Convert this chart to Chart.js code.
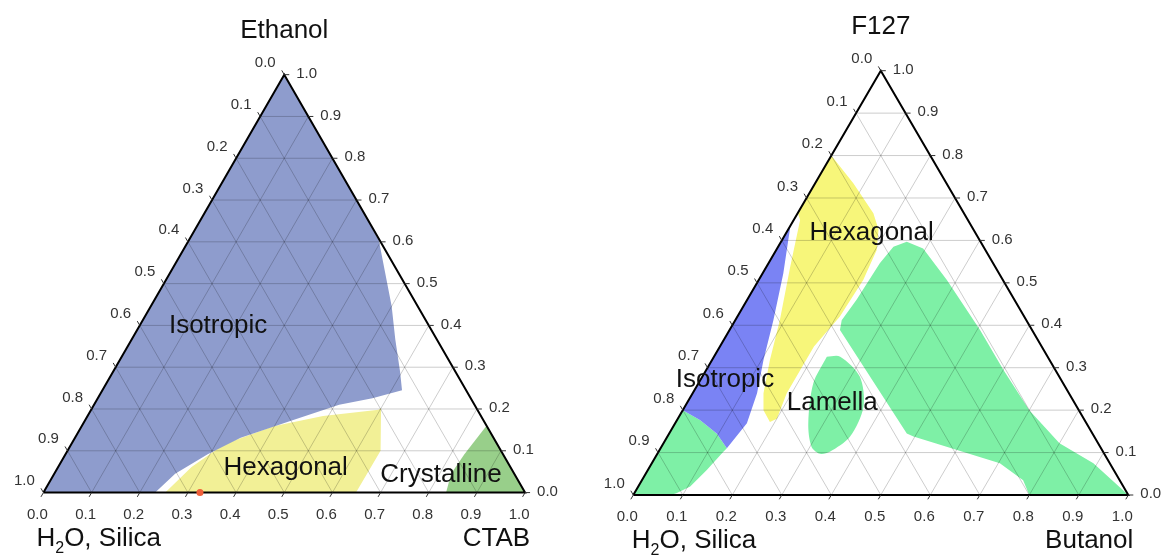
<!DOCTYPE html>
<html>
<head>
<meta charset="utf-8">
<script src="https://cdn.jsdelivr.net/npm/chart.js@4.4.1/dist/chart.umd.min.js"></script>
<style>
  html, body { margin: 0; padding: 0; background: #fff; }
  .wrap { position: relative; width: 1168px; height: 557px; }
  .panel { position: absolute; top: 0; width: 584px; height: 557px; }
</style>
</head>
<body>
<div class="wrap">
  <div class="panel" style="left:0"><canvas id="ctabChart" width="584" height="557"></canvas></div>
  <div class="panel" style="left:584px"><canvas id="butanolChart" width="584" height="557"></canvas></div>
</div>
<script>
// Ternary points are [bottom component, top component]; left-edge component = 1 - a - b
const ticks = [0, 0.1, 0.2, 0.3, 0.4, 0.5, 0.6, 0.7, 0.8, 0.9, 1.0];
const tickLabels = ['0.0', '0.1', '0.2', '0.3', '0.4', '0.5', '0.6', '0.7', '0.8', '0.9', '1.0'];

// H2O, Silica / Ethanol / CTAB
const ctabIsotropic = [
  [0, 1], [0.3, 0.7], [0.395, 0.603], [0.5, 0.446], [0.547, 0.367], [0.596, 0.289], [0.622, 0.245],
  [0.57, 0.226], [0.509, 0.21], [0.427, 0.171], [0.344, 0.131], [0.295, 0.092], [0.251, 0.045],
  [0.232, 0], [0, 0]
];
const ctabHexagonal = [
  [0.253, 0], [0.277, 0.061], [0.318, 0.116], [0.398, 0.159], [0.489, 0.183], [0.597, 0.198],
  [0.6, 0.202], [0.65, 0.1], [0.649, 0]
];
const ctabCrystalline = [[0.84, 0.16], [0.828, 0.092], [0.824, 0.045], [0.836, 0], [1, 0]];
const ctabSample = [[0.325, 0]];

// H2O, Silica / F127 / Butanol
const butIsotropic = [
  [0, 0.635], [0.042, 0.522], [0.077, 0.412], [0.104, 0.318], [0.13, 0.24], [0.145, 0.169],
  [0.134, 0.11], [0.096, 0.145], [0.046, 0.177], [0, 0.2]
];
const butWaterRich = [
  [0, 0.2], [0.046, 0.177], [0.096, 0.145], [0.134, 0.11], [0.131, 0.102], [0.119, 0.059],
  [0.105, 0.02], [0.085, 0.004], [0.075, 0], [0, 0]
];
const butHexagonal = [
  [0, 0.8], [0.077, 0.735], [0.153, 0.664], [0.183, 0.625], [0.203, 0.577], [0.211, 0.507],
  [0.207, 0.42], [0.19, 0.35], [0.19, 0.24], [0.2, 0.18], [0.19, 0.172], [0.163, 0.2],
  [0.143, 0.24], [0.117, 0.318], [0.09, 0.412], [0.048, 0.538], [0.013, 0.648], [0, 0.665]
];
const butLamella = [
  [0.228, 0.326], [0.255, 0.326], [0.318, 0.279], [0.361, 0.208], [0.369, 0.138], [0.346, 0.102],
  [0.329, 0.097], [0.303, 0.114], [0.269, 0.169], [0.232, 0.263]
];
const butLamellaWide = [
  [0.233, 0.585], [0.254, 0.597], [0.295, 0.581], [0.38, 0.507], [0.506, 0.389], [0.6, 0.295],
  [0.7, 0.2], [0.8, 0.122], [0.892, 0.075], [1, 0], [0.8, 0], [0.77, 0.035], [0.703, 0.075],
  [0.497, 0.138], [0.48, 0.145], [0.223, 0.389], [0.215, 0.412], [0.221, 0.46], [0.225, 0.546]
];

const BIG = '26px "Liberation Sans", Arial, sans-serif';
const SUB = '16px "Liberation Sans", Arial, sans-serif';
const SMALL = '15px "Liberation Sans", Arial, sans-serif';

function toXY(p) {
  return { x: p[0] + p[1] / 2, y: p[1] };
}

function regionSet(points, color, tension = 0) {
  const data = points.map(toXY);
  data.push(data[0]);
  return {
    data, showLine: true, fill: 'shape', backgroundColor: color, borderColor: color,
    borderWidth: 0, pointRadius: 0, tension, order: 3
  };
}

function gridSets() {
  const sets = [];
  ticks.slice(1, -1).forEach(v => {
    const segs = [[[v, 0], [v, 1 - v]], [[0, v], [1 - v, v]], [[0, 1 - v], [1 - v, 0]]];
    segs.forEach(seg => {
      sets.push({
        data: seg.map(toXY), showLine: true, borderColor: 'rgba(0,0,0,0.2)',
        borderWidth: 1, pointRadius: 0, fill: false, order: 2
      });
    });
  });
  return sets;
}

function frameSet() {
  return {
    data: [[0, 0], [1, 0], [0, 1], [0, 0]].map(toXY), showLine: true, borderColor: '#000',
    borderWidth: 2, borderJoinStyle: 'miter', pointRadius: 0, fill: false, order: 1
  };
}

function drawWaterSilica(ctx, x, y) {
  ctx.textAlign = 'left';
  ctx.font = BIG;
  ctx.fillText('H', x, y);
  let w = ctx.measureText('H').width;
  ctx.font = SUB;
  ctx.fillText('2', x + w, y + 7);
  w += ctx.measureText('2').width;
  ctx.font = BIG;
  ctx.fillText('O, Silica', x + w, y);
}

// ticks, tick labels, titles and phase names
function axesPlugin(cfg) {
  return {
    id: 'ternaryAxes',
    afterDraw(chart) {
      const ctx = chart.ctx;
      const px = (a, b) => {
        const p = toXY([a, b]);
        return { x: chart.scales.x.getPixelForValue(p.x), y: chart.scales.y.getPixelForValue(p.y) };
      };
      ctx.save();
      ctx.strokeStyle = '#333';
      ctx.lineWidth = 1;
      ctx.fillStyle = '#333';
      ctx.font = SMALL;
      ticks.forEach((v, i) => {
        // bottom axis
        let p = px(v, 0);
        ctx.beginPath(); ctx.moveTo(p.x, p.y); ctx.lineTo(p.x - 2.5, p.y + 4.3); ctx.stroke();
        ctx.textAlign = 'center'; ctx.textBaseline = 'middle';
        ctx.fillText(tickLabels[i], p.x - 6, p.y + 22);
        // left axis
        p = px(0, 1 - v);
        ctx.beginPath(); ctx.moveTo(p.x, p.y); ctx.lineTo(p.x - 2.5, p.y - 4.3); ctx.stroke();
        ctx.fillText(tickLabels[i], p.x - 19, p.y - 11.5);
        // right axis
        p = px(1 - v, v);
        ctx.beginPath(); ctx.moveTo(p.x, p.y); ctx.lineTo(p.x + 5, p.y); ctx.stroke();
        ctx.textAlign = 'left';
        ctx.fillText(tickLabels[i], p.x + 12, p.y - 1);
      });

      ctx.fillStyle = '#111';
      ctx.textBaseline = 'alphabetic';
      ctx.font = BIG;
      const top = px(0, 1), left = px(0, 0), right = px(1, 0);
      ctx.textAlign = 'center';
      ctx.fillText(cfg.title, top.x, top.y - 37);
      drawWaterSilica(ctx, left.x + cfg.leftNameShift, left.y + 53);
      ctx.font = BIG;
      ctx.textAlign = 'right';
      ctx.fillText(cfg.rightName, right.x + 5, left.y + 53);

      ctx.textAlign = 'center';
      cfg.phaseLabels.forEach(l => {
        const p = px(l.at[0], l.at[1]);
        ctx.fillText(l.text, p.x, p.y);
      });
      ctx.restore();
    }
  };
}

function makeChart(id, panel, datasets, cfg) {
  return new Chart(document.getElementById(id), {
    type: 'scatter',
    data: { datasets },
    options: {
      responsive: false,
      animation: false,
      events: [],
      layout: { padding: 0 },
      plugins: { legend: { display: false }, tooltip: { enabled: false } },
      scales: {
        x: { type: 'linear', display: false, min: -panel.x0 / panel.w, max: (panel.width - panel.x0) / panel.w },
        y: { type: 'linear', display: false, min: -(panel.height - panel.y0) / panel.h, max: panel.y0 / panel.h }
      }
    },
    plugins: [axesPlugin(cfg)]
  });
}

// Ethanol / CTAB diagram
makeChart('ctabChart',
  { x0: 40, y0: 495.7, w: 488.3, h: 424, width: 584, height: 557 },
  [
    {
      data: ctabSample.map(toXY), pointRadius: 3.5, backgroundColor: '#f0603a',
      borderWidth: 0, showLine: false, order: 0
    },
    frameSet(),
    ...gridSets(),
    regionSet(ctabIsotropic, 'rgb(142,156,205)'),
    regionSet(ctabHexagonal, 'rgb(242,240,150)'),
    regionSet(ctabCrystalline, 'rgb(152,207,138)')
  ],
  {
    title: 'Ethanol', rightName: 'CTAB', leftNameShift: -7,
    phaseLabels: [
      { text: 'Isotropic', at: [0.172, 0.381] },
      { text: 'Hexagonal', at: [0.482, 0.042] },
      { text: 'Crystalline', at: [0.813, 0.025] }
    ]
  });

// F127 / Butanol diagram
makeChart('butanolChart',
  { x0: 49.3, y0: 495, w: 495, h: 424.3, width: 584, height: 557 },
  [
    frameSet(),
    ...gridSets(),
    regionSet(butIsotropic, 'rgb(122,131,244)'),
    regionSet(butWaterRich, 'rgb(126,240,166)'),
    regionSet(butHexagonal, 'rgb(247,246,122)'),
    regionSet(butLamella, 'rgb(126,240,166)', 0.3),
    regionSet(butLamellaWide, 'rgb(126,240,166)')
  ],
  {
    title: 'F127', rightName: 'Butanol', leftNameShift: -1.5,
    phaseLabels: [
      { text: 'Hexagonal', at: [0.181, 0.601] },
      { text: 'Isotropic', at: [0.058, 0.2545] },
      { text: 'Lamella', at: [0.302, 0.2] }
    ]
  });
</script>
</body>
</html>
